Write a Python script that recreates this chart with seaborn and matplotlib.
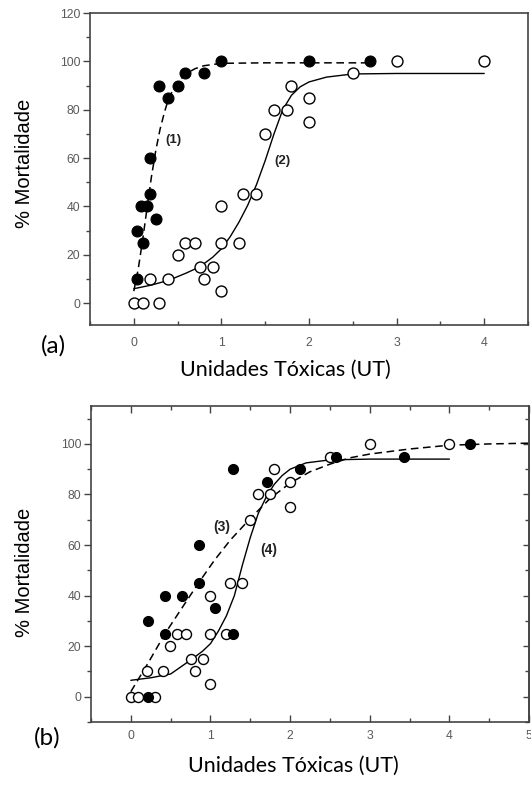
import matplotlib
matplotlib.use("Agg")
import matplotlib.pyplot as plt
from matplotlib.ticker import MultipleLocator
import seaborn as sns

# ---------------- data ----------------
# panel (a): observed mortality
ut_a_filled = [0.04, 0.04, 0.10, 0.08, 0.15, 0.19, 0.25, 0.19, 0.29, 0.39, 0.50, 0.59, 0.80, 1.00, 2.00, 2.70]
mort_a_filled = [10, 30, 25, 40, 40, 45, 35, 60, 90, 85, 90, 95, 95, 100, 100, 100]
ut_a_open = [0.0, 0.10, 0.29, 0.19, 0.39, 0.50, 0.59, 0.70, 0.75, 0.80, 0.90, 1.0, 1.0, 1.0,
             1.2, 1.25, 1.4, 1.5, 1.6, 1.75, 1.8, 2.0, 2.0, 2.5, 3.0, 4.0]
mort_a_open = [0, 0, 0, 10, 10, 20, 25, 25, 15, 10, 15, 5, 25, 40,
               25, 45, 45, 70, 80, 80, 90, 85, 75, 95, 100, 100]

# panel (a): fitted curves (1) dashed and (2) solid
curve1_x = [0, 0.05, 0.1, 0.15, 0.2, 0.25, 0.3, 0.35, 0.4, 0.5, 0.6, 0.7, 0.8, 1.0, 1.5, 2.0, 2.7]
curve1_y = [5, 14, 26, 39, 52, 63, 72, 79, 85, 91.5, 95, 97, 98.2, 99.2, 99.4, 99.4, 99.4]
curve2_x = [0, 0.2, 0.4, 0.6, 0.75, 0.9, 1.0, 1.1, 1.2, 1.3, 1.4, 1.5, 1.6, 1.7, 1.8, 1.9,
            2.0, 2.2, 2.5, 3.0, 4.0]
curve2_y = [6, 7.5, 9.5, 12.5, 15, 19, 22.5, 27.5, 33.5, 40.5, 49, 59, 70, 80, 86, 89.5,
            91.5, 93.5, 94.8, 95, 95]

# panel (b): observed mortality
ut_b_filled = [0.22, 0.22, 0.43, 0.43, 0.64, 0.85, 0.85, 1.06, 1.28, 1.28, 1.71, 2.13, 2.57, 3.43, 4.26]
mort_b_filled = [0, 30, 40, 25, 40, 45, 60, 35, 25, 90, 85, 90, 95, 95, 100]
ut_b_open = [0.0, 0.09, 0.30, 0.20, 0.40, 0.49, 0.58, 0.69, 0.75, 0.80, 0.90, 1.0, 1.0, 1.0,
             1.19, 1.25, 1.39, 1.5, 1.6, 1.75, 1.8, 2.0, 2.0, 2.5, 3.0, 4.0]
mort_b_open = [0, 0, 0, 10, 10, 20, 25, 25, 15, 10, 15, 5, 25, 40,
               25, 45, 45, 70, 80, 80, 90, 85, 75, 95, 100, 100]

# panel (b): fitted curves (3) dashed and (4) solid
curve3_x = [0, 0.22, 0.43, 0.65, 0.85, 1.05, 1.25, 1.5, 1.75, 2.0, 2.25, 2.5, 2.75, 3.0,
            3.5, 4.0, 4.5, 5.0]
curve3_y = [2, 13.5, 25, 35.5, 45, 54, 62, 70.5, 78.5, 84.5, 89, 92, 94.5, 96,
            98, 99.5, 100, 100.3]
curve4_x = [0, 0.25, 0.5, 0.75, 0.9, 1.0, 1.1, 1.2, 1.3, 1.4, 1.5, 1.6, 1.7, 1.8, 1.9,
            2.0, 2.2, 2.5, 3.0, 3.5, 4.0]
curve4_y = [6.5, 7.5, 9, 14.5, 18, 21, 26, 32, 40, 52, 63, 72.5, 79, 84, 87.5,
            90, 92.5, 93.7, 94, 94, 94]

curve_labels_a = ["(1)", "(2)"]
curve_labels_b = ["(3)", "(4)"]
label_pos_a = [(0.45, 67.6), (1.70, 59.0)]
label_pos_b = [(1.14, 67.3), (1.73, 58.1)]

x_label = "Unidades Tóxicas (UT)"
y_label = "% Mortalidade"

# ---------------- style ----------------
sns.set_theme(style="white")
plt.rcParams["font.family"] = ["Liberation Sans", "DejaVu Sans"]

SPINE = "#444444"
TICKTXT = "#5a5a5a"
HUMANIST = ["Lato", "DejaVu Sans"]

fig = plt.figure(figsize=(5.31, 7.89), dpi=100)
ax_a = fig.add_axes([0.1695, 0.5881, 0.8249, 0.3954])
ax_b = fig.add_axes([0.1714, 0.0849, 0.8249, 0.4005])


def draw_panel(ax, cx_d, cy_d, cx_s, cy_s, fx, fy, ox, oy, msize):
    sns.lineplot(x=cx_d, y=cy_d, ax=ax, color="black", lw=1.1, sort=False, estimator=None)
    ax.lines[-1].set_dashes([5, 3])
    sns.lineplot(x=cx_s, y=cy_s, ax=ax, color="black", lw=1.0, sort=False, estimator=None)
    sns.scatterplot(x=ox, y=oy, ax=ax, s=msize, facecolor="white", edgecolor="black",
                    linewidth=1.0, zorder=3)
    sns.scatterplot(x=fx, y=fy, ax=ax, s=msize, color="black", edgecolor="black",
                    linewidth=0.8, zorder=4)
    for s in ax.spines.values():
        s.set_color(SPINE)
        s.set_linewidth(1.2)
    ax.set_xlabel("")
    ax.set_ylabel("")


draw_panel(ax_a, curve1_x, curve1_y, curve2_x, curve2_y,
           ut_a_filled, mort_a_filled, ut_a_open, mort_a_open, 62)
draw_panel(ax_b, curve3_x, curve3_y, curve4_x, curve4_y,
           ut_b_filled, mort_b_filled, ut_b_open, mort_b_open, 52)

# panel (a) axes
ax_a.set_xlim(-0.5, 4.5)
ax_a.set_ylim(-9, 120)
ax_a.xaxis.set_major_locator(MultipleLocator(1))
ax_a.xaxis.set_minor_locator(MultipleLocator(0.5))
ax_a.yaxis.set_major_locator(MultipleLocator(20))
ax_a.yaxis.set_minor_locator(MultipleLocator(10))
ax_a.tick_params(axis="x", which="both", direction="in", bottom=True, top=False,
                 colors=SPINE, labelcolor=TICKTXT, labelsize=8.8, pad=9)
ax_a.tick_params(axis="x", which="major", length=5, width=1.0)
ax_a.tick_params(axis="x", which="minor", length=3, width=1.0)
ax_a.tick_params(axis="y", which="both", direction="out", left=True, right=False,
                 colors=SPINE, labelcolor=TICKTXT, labelsize=8.8, pad=2)
ax_a.tick_params(axis="y", which="major", length=5, width=1.0)
ax_a.tick_params(axis="y", which="minor", length=3, width=1.0)

# panel (b) axes
ax_b.set_xlim(-0.5, 5.0)
ax_b.set_ylim(-10, 115)
ax_b.xaxis.set_major_locator(MultipleLocator(1))
ax_b.xaxis.set_minor_locator(MultipleLocator(0.5))
ax_b.yaxis.set_minor_locator(MultipleLocator(10))
ax_b.set_yticks([0, 20, 40, 60, 80, 100])
ax_b.tick_params(axis="x", which="both", direction="in", bottom=True, top=True,
                 colors=SPINE, labelcolor=TICKTXT, labelsize=8.8, pad=6)
ax_b.tick_params(axis="x", which="major", length=5, width=1.0)
ax_b.tick_params(axis="x", which="minor", length=3, width=1.0)
ax_b.tick_params(axis="y", which="both", direction="out", left=True, right=False,
                 colors=SPINE, labelcolor=TICKTXT, labelsize=8.8, pad=2)
ax_b.tick_params(axis="y", which="major", length=5, width=1.0)
ax_b.tick_params(axis="y", which="minor", length=3, width=1.0)
# inward ticks along the right edge
sec = ax_b.secondary_yaxis("right")
sec.yaxis.set_major_locator(MultipleLocator(20))
sec.yaxis.set_minor_locator(MultipleLocator(10))
sec.tick_params(axis="y", which="both", direction="in", colors=SPINE, labelright=False)
sec.tick_params(axis="y", which="major", length=4, width=1.0)
sec.tick_params(axis="y", which="minor", length=3, width=1.0)
sec.spines["right"].set_color(SPINE)
sec.spines["right"].set_linewidth(1.2)

# curve labels
for ax, labels, pos, fs in [(ax_a, curve_labels_a, label_pos_a, 9.5),
                            (ax_b, curve_labels_b, label_pos_b, 10)]:
    for lab, (lx, ly) in zip(labels, pos):
        ax.text(lx, ly, lab, ha="center", va="center", fontsize=fs,
                fontweight="bold", color="#222222")

# axis titles and panel tags
for yc in (0.7934, 0.275):
    fig.text(0.047, yc, y_label, rotation=90, ha="center", va="center",
             fontsize=14.5, color="black")
fig.text(0.537, 0.531, x_label, ha="center", va="center", fontsize=15.5,
         family=HUMANIST, color="black")
fig.text(0.552, 0.029, x_label, ha="center", va="center", fontsize=15.5,
         family=HUMANIST, color="black")
fig.text(0.100, 0.5615, "(a)", ha="center", va="center", fontsize=17.5,
         family=HUMANIST, color="black")
fig.text(0.0885, 0.0646, "(b)", ha="center", va="center", fontsize=17.5,
         family=HUMANIST, color="black")

fig.savefig("out.png", dpi=100, facecolor="white")
